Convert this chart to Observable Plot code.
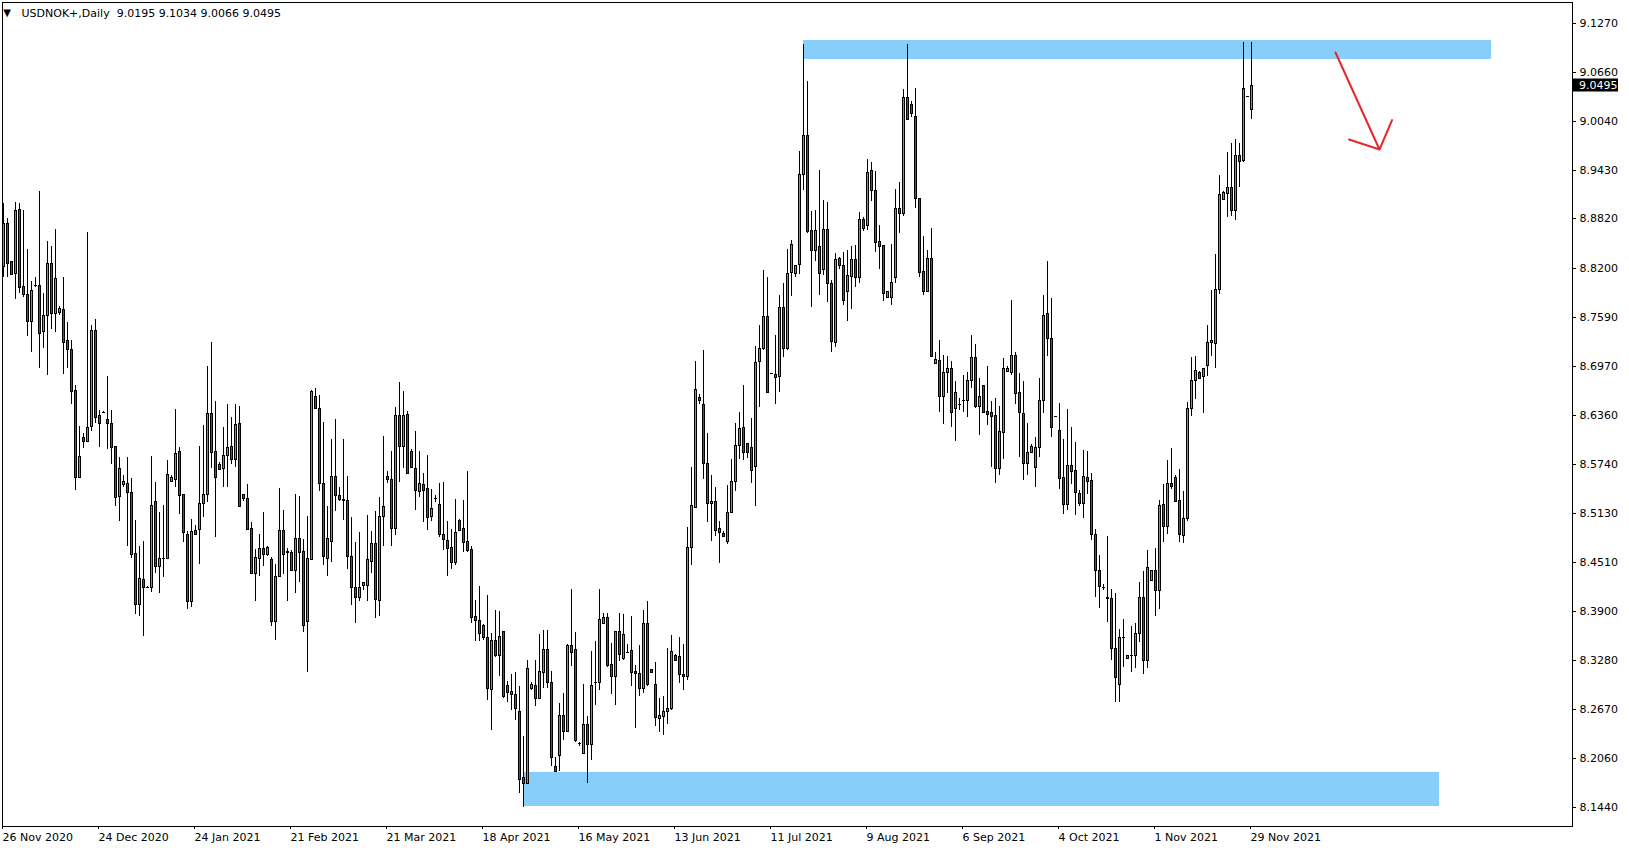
<!DOCTYPE html>
<html><head><meta charset="utf-8">
<script src="https://cdn.jsdelivr.net/npm/d3@7"></script>
<script src="https://cdn.jsdelivr.net/npm/@observablehq/plot@0.6"></script>
<style>html,body{margin:0;padding:0;background:#fff;overflow:hidden}svg{display:block}</style>
</head><body><div id="chart"></div>
<script>
// ---- Data (USDNOK+, Daily) ----
const symbol = "USDNOK+";
const period = "Daily";
const opens = [
8.822,8.876,8.828,8.814,8.894,8.797,8.787,8.754,8.798,8.798,
8.741,8.761,8.826,8.764,8.765,8.768,8.729,8.718,8.667,8.558,
8.608,8.603,8.622,8.742,8.636,8.640,8.631,8.625,8.597,8.534,
8.549,8.551,8.539,8.463,8.399,8.430,8.420,8.420,8.528,8.446,
8.456,8.457,8.553,8.555,8.590,8.537,8.487,8.403,8.492,8.493,
8.525,8.536,8.638,8.590,8.574,8.569,8.586,8.597,8.581,8.625,
8.536,8.531,8.494,8.438,8.457,8.469,8.462,8.455,8.378,8.434,
8.491,8.465,8.464,8.442,8.482,8.465,8.378,8.455,8.659,8.645,
8.550,8.457,8.478,8.559,8.535,8.530,8.529,8.459,8.420,8.407,
8.423,8.422,8.453,8.475,8.404,8.509,8.559,8.555,8.494,8.636,
8.597,8.637,8.590,8.569,8.541,8.549,8.544,8.509,8.532,8.524,
8.487,8.479,8.470,8.452,8.504,8.494,8.478,8.468,8.384,8.379,
8.372,8.357,8.292,8.354,8.335,8.365,8.297,8.290,8.286,8.265,
8.182,8.175,8.294,8.297,8.281,8.314,8.343,8.301,8.196,8.209,
8.260,8.239,8.347,8.342,8.224,8.212,8.249,8.223,8.301,8.301,
8.375,8.382,8.323,8.309,8.365,8.331,8.339,8.341,8.315,8.312,
8.294,8.375,8.317,8.299,8.256,8.259,8.265,8.269,8.335,8.333,
8.311,8.309,8.470,8.520,8.658,8.649,8.575,8.525,8.528,8.494,
8.488,8.478,8.514,8.553,8.598,8.621,8.600,8.595,8.572,8.703,
8.719,8.760,8.688,8.687,8.684,8.771,8.720,8.815,8.814,8.825,
8.938,8.986,8.867,8.842,8.847,8.818,8.869,8.801,8.727,8.832,
8.824,8.791,8.810,8.831,8.808,8.881,8.874,8.943,8.918,8.854,
8.849,8.784,8.784,8.808,8.895,8.889,9.034,9.025,9.010,8.908,
8.816,8.791,8.833,8.701,8.704,8.659,8.689,8.695,8.645,8.649,
8.655,8.654,8.680,8.708,8.647,8.673,8.641,8.639,8.636,8.569,
8.614,8.691,8.689,8.711,8.664,8.638,8.575,8.589,8.571,8.596,
8.655,8.763,8.732,8.634,8.617,8.558,8.524,8.573,8.567,8.538,
8.525,8.558,8.554,8.486,8.442,8.420,8.408,8.406,8.344,8.298,
8.357,8.331,8.335,8.335,8.363,8.407,8.328,8.429,8.441,8.416,
8.524,8.497,8.550,8.558,8.529,8.485,8.506,8.645,8.680,8.689,
8.684,8.698,8.727,8.726,8.794,8.906,8.914,8.921,8.892,8.962,
8.955,9.035,9.0195];
const highs = [
8.901,8.882,8.829,8.902,8.901,8.893,8.844,8.804,8.809,8.916,
8.788,8.854,8.847,8.869,8.772,8.809,8.752,8.730,8.673,8.622,
8.613,8.865,8.748,8.756,8.642,8.641,8.684,8.642,8.597,8.583,
8.560,8.583,8.557,8.504,8.471,8.478,8.421,8.584,8.552,8.514,
8.523,8.579,8.560,8.643,8.596,8.537,8.490,8.505,8.498,8.597,
8.623,8.697,8.727,8.653,8.577,8.620,8.650,8.633,8.650,8.647,
8.536,8.549,8.501,8.468,8.487,8.514,8.472,8.458,8.449,8.544,
8.517,8.469,8.467,8.537,8.534,8.480,8.509,8.667,8.670,8.661,
8.627,8.522,8.606,8.630,8.546,8.606,8.559,8.508,8.477,8.489,
8.426,8.510,8.490,8.515,8.533,8.609,8.566,8.590,8.646,8.677,
8.666,8.641,8.593,8.616,8.590,8.563,8.586,8.543,8.535,8.551,
8.552,8.503,8.493,8.530,8.505,8.529,8.565,8.471,8.404,8.421,
8.374,8.410,8.363,8.391,8.390,8.365,8.302,8.311,8.313,8.296,
8.233,8.329,8.301,8.329,8.361,8.366,8.366,8.315,8.207,8.275,
8.287,8.349,8.418,8.364,8.226,8.298,8.259,8.340,8.352,8.418,
8.387,8.388,8.350,8.365,8.388,8.386,8.349,8.384,8.322,8.347,
8.391,8.403,8.317,8.326,8.281,8.284,8.344,8.360,8.336,8.357,
8.349,8.495,8.570,8.703,8.662,8.717,8.613,8.560,8.545,8.503,
8.490,8.548,8.580,8.625,8.639,8.673,8.600,8.632,8.722,8.748,
8.817,8.808,8.688,8.736,8.786,8.801,8.844,8.855,8.824,8.966,
9.101,9.054,8.891,8.893,8.943,8.905,8.903,8.805,8.839,8.834,
8.840,8.843,8.847,8.849,8.890,8.884,8.957,8.953,8.941,8.874,
8.849,8.791,8.850,8.919,8.927,9.044,9.101,9.029,9.046,8.908,
8.860,8.842,8.870,8.715,8.730,8.711,8.710,8.703,8.678,8.657,
8.686,8.689,8.736,8.724,8.682,8.673,8.697,8.653,8.657,8.647,
8.707,8.697,8.780,8.715,8.688,8.678,8.626,8.599,8.608,8.682,
8.786,8.829,8.782,8.634,8.651,8.605,8.643,8.621,8.602,8.542,
8.592,8.591,8.563,8.493,8.460,8.424,8.484,8.418,8.413,8.367,
8.380,8.335,8.371,8.375,8.426,8.440,8.467,8.442,8.469,8.529,
8.549,8.579,8.594,8.560,8.568,8.540,8.652,8.708,8.710,8.691,
8.695,8.749,8.792,8.837,8.937,8.916,8.965,8.976,8.982,8.976,
9.103,9.035,9.1034];
const lows = [
8.808,8.809,8.811,8.781,8.789,8.783,8.735,8.714,8.796,8.694,
8.719,8.686,8.744,8.740,8.761,8.687,8.695,8.649,8.542,8.558,
8.594,8.602,8.615,8.626,8.596,8.639,8.593,8.574,8.521,8.503,
8.546,8.471,8.456,8.386,8.384,8.359,8.419,8.414,8.437,8.412,
8.432,8.457,8.552,8.546,8.512,8.476,8.393,8.395,8.487,8.449,
8.508,8.526,8.569,8.483,8.567,8.546,8.546,8.574,8.571,8.521,
8.528,8.491,8.437,8.403,8.434,8.446,8.459,8.371,8.354,8.434,
8.436,8.402,8.442,8.413,8.426,8.364,8.313,8.454,8.645,8.541,
8.448,8.434,8.452,8.515,8.528,8.504,8.443,8.397,8.375,8.402,
8.416,8.402,8.437,8.381,8.384,8.472,8.550,8.471,8.485,8.552,
8.569,8.562,8.570,8.517,8.533,8.501,8.492,8.503,8.526,8.483,
8.467,8.434,8.443,8.448,8.492,8.464,8.464,8.375,8.352,8.352,
8.354,8.278,8.241,8.332,8.309,8.281,8.276,8.266,8.253,8.162,
8.145,8.174,8.291,8.271,8.281,8.294,8.294,8.196,8.190,8.189,
8.228,8.239,8.321,8.226,8.221,8.211,8.174,8.203,8.272,8.291,
8.375,8.320,8.286,8.272,8.327,8.328,8.338,8.296,8.244,8.283,
8.287,8.296,8.313,8.246,8.238,8.234,8.248,8.266,8.328,8.300,
8.291,8.304,8.448,8.520,8.650,8.556,8.501,8.478,8.484,8.450,
8.484,8.474,8.513,8.541,8.580,8.579,8.582,8.550,8.522,8.646,
8.717,8.663,8.688,8.649,8.665,8.708,8.717,8.785,8.809,8.812,
8.918,8.864,8.771,8.828,8.786,8.811,8.777,8.714,8.721,8.819,
8.773,8.753,8.768,8.796,8.801,8.866,8.867,8.904,8.840,8.819,
8.779,8.784,8.773,8.801,8.864,8.885,9.006,9.009,8.895,8.808,
8.786,8.791,8.709,8.701,8.640,8.624,8.663,8.621,8.603,8.642,
8.640,8.633,8.670,8.645,8.610,8.638,8.623,8.570,8.551,8.560,
8.581,8.690,8.686,8.650,8.583,8.554,8.561,8.588,8.546,8.583,
8.638,8.710,8.608,8.634,8.543,8.512,8.516,8.549,8.510,8.521,
8.506,8.537,8.479,8.408,8.394,8.416,8.376,8.328,8.276,8.276,
8.320,8.331,8.314,8.318,8.351,8.311,8.319,8.428,8.384,8.392,
8.476,8.486,8.543,8.526,8.476,8.475,8.503,8.634,8.656,8.682,
8.638,8.684,8.709,8.695,8.787,8.906,8.884,8.885,8.880,8.921,
8.953,9.035,9.0066];
const closes = [
8.876,8.826,8.812,8.892,8.796,8.787,8.754,8.792,8.798,8.739,
8.761,8.826,8.763,8.807,8.770,8.727,8.718,8.666,8.558,8.584,
8.603,8.620,8.742,8.633,8.625,8.640,8.625,8.596,8.533,8.569,
8.553,8.539,8.462,8.399,8.431,8.420,8.420,8.523,8.446,8.456,
8.456,8.562,8.558,8.588,8.535,8.489,8.403,8.490,8.487,8.525,
8.536,8.638,8.589,8.558,8.568,8.586,8.595,8.581,8.624,8.522,
8.531,8.493,8.438,8.458,8.469,8.461,8.470,8.378,8.434,8.491,
8.461,8.464,8.442,8.482,8.464,8.373,8.456,8.666,8.645,8.551,
8.459,8.482,8.559,8.535,8.530,8.529,8.459,8.420,8.407,8.420,
8.426,8.455,8.475,8.405,8.509,8.522,8.555,8.494,8.636,8.597,
8.636,8.563,8.570,8.542,8.550,8.542,8.508,8.519,8.532,8.487,
8.480,8.469,8.451,8.489,8.492,8.477,8.467,8.383,8.379,8.363,
8.357,8.293,8.354,8.335,8.359,8.284,8.289,8.286,8.268,8.180,
8.174,8.318,8.298,8.281,8.315,8.343,8.301,8.207,8.190,8.260,
8.239,8.347,8.338,8.228,8.224,8.249,8.223,8.297,8.301,8.380,
8.383,8.322,8.309,8.365,8.336,8.361,8.339,8.314,8.312,8.294,
8.375,8.299,8.313,8.257,8.260,8.265,8.269,8.340,8.329,8.311,
8.308,8.470,8.523,8.668,8.654,8.575,8.525,8.528,8.491,8.489,
8.484,8.514,8.553,8.598,8.619,8.589,8.589,8.567,8.702,8.719,
8.760,8.664,8.688,8.683,8.771,8.720,8.814,8.850,8.824,8.938,
8.987,8.866,8.842,8.867,8.814,8.869,8.801,8.728,8.831,8.824,
8.780,8.811,8.831,8.808,8.881,8.870,8.940,8.918,8.853,8.848,
8.789,8.791,8.802,8.895,8.889,9.034,9.006,9.014,8.908,8.815,
8.791,8.833,8.709,8.706,8.660,8.689,8.695,8.640,8.664,8.649,
8.655,8.680,8.708,8.647,8.659,8.640,8.637,8.634,8.569,8.616,
8.695,8.694,8.711,8.663,8.639,8.576,8.589,8.597,8.596,8.655,
8.761,8.732,8.620,8.634,8.557,8.524,8.573,8.566,8.539,8.525,
8.559,8.553,8.486,8.442,8.421,8.420,8.406,8.344,8.307,8.357,
8.357,8.335,8.335,8.363,8.407,8.328,8.445,8.441,8.416,8.523,
8.497,8.550,8.547,8.528,8.486,8.507,8.645,8.680,8.692,8.682,
8.695,8.727,8.729,8.794,8.912,8.915,8.921,8.892,8.962,8.954,
9.046,9.035,9.0495];

// date labels shown every 24 bars
const dateLabels = ["26 Nov 2020","24 Dec 2020","24 Jan 2021","21 Feb 2021","21 Mar 2021","18 Apr 2021","16 May 2021","13 Jun 2021","11 Jul 2021","9 Aug 2021","6 Sep 2021","4 Oct 2021","1 Nov 2021","29 Nov 2021"];
const dateLabelBars = [0,24,48,72,96,120,144,168,192,216,240,264,288,312];
const priceTicks = [9.1270,9.0660,9.0040,8.9430,8.8820,8.8200,8.7590,8.6970,8.6360,8.5740,8.5130,8.4510,8.3900,8.3280,8.2670,8.2060,8.1440];

// supply / demand zones (bar index from, to; price top, bottom)
const zoneFrom = [200, 130];
const zoneTo = [372, 359];
const zoneTop = [9.1055, 8.1883];
const zoneBottom = [9.0817, 8.1455];

// hand-drawn red arrow (bar index, price)
const arrowBars = [333, 344];
const arrowPrices = [9.0905, 8.9695];

// ---- Build ----
const candles = opens.map((o, i) => ({i, open: o, high: highs[i], low: lows[i], close: closes[i]}));
const bulls = candles.filter(d => d.close > d.open);
const bears = candles.filter(d => d.close < d.open);
const dojis = candles.filter(d => Math.abs(d.close - d.open) < 0.0008);
const zones = zoneFrom.map((f, k) => ({from: f, to: zoneTo[k], top: zoneTop[k], bottom: zoneBottom[k]}));
const arrows = [{x1: arrowBars[0], y1: arrowPrices[0], x2: arrowBars[1], y2: arrowPrices[1]}];
const last = candles[candles.length - 1];
const header = `${symbol},${period}\u00a0\u00a0${last.open.toFixed(4)} ${last.high.toFixed(4)} ${last.low.toFixed(4)} ${last.close.toFixed(4)}`;

const W = 1629, H = 850, MR = 57, MB = 24, ML = 2, MT = 2;
const GREEN = "#26d026", RED = "#dc1a1a", ZONE = "#87cefa";

const chart = Plot.plot({
  width: W, height: H,
  marginLeft: ML, marginRight: MR, marginTop: MT, marginBottom: MB,
  style: {fontFamily: "'DejaVu Sans', sans-serif", fontSize: "11px", background: "white", color: "black"},
  x: {type: "linear", domain: [0, 312], range: [3, 3 + 4 * 312]},
  y: {type: "linear", domain: [8.144, 9.127], range: [807.3, 22.9], round: true},
  marks: [
    Plot.rect(zones, {x1: "from", x2: "to", y1: "bottom", y2: "top", fill: ZONE}),
    Plot.ruleX(candles, {x: "i", y1: "low", y2: "high", stroke: "black", strokeWidth: 1}),
    Plot.rect(bulls, {x1: d => d.i - 0.25, x2: d => d.i + 0.25, y1: "open", y2: "close", fill: GREEN, stroke: "black", strokeWidth: 1, dx: 0.5, dy: 0.5}),
    Plot.rect(bears, {x1: d => d.i - 0.25, x2: d => d.i + 0.25, y1: "open", y2: "close", fill: RED, stroke: "black", strokeWidth: 1, dx: 0.5, dy: 0.5}),
    Plot.ruleY(dojis, {y: "close", x1: d => d.i - 0.375, x2: d => d.i + 0.375, stroke: "black", strokeWidth: 1, dx: 0.5}),
    Plot.arrow(arrows, {x1: "x1", y1: "y1", x2: "x2", y2: "y2", stroke: "#e8262b", strokeWidth: 2, headLength: 24, headAngle: 95}),
    Plot.frame({stroke: "black"}),
    Plot.axisY({anchor: "right", ticks: priceTicks, tickFormat: d => d.toFixed(4), tickSize: 3, tickPadding: 4, label: null, fontSize: 11}),
    Plot.axisX({anchor: "bottom", ticks: dateLabelBars, tickFormat: d => dateLabels[dateLabelBars.indexOf(d)], tickSize: 3, tickPadding: 4, textAnchor: "start", dx: -1, label: null, fontSize: 11}),
    Plot.text([header], {text: d => d, frameAnchor: "top-left", dx: 19, dy: 10.5, textAnchor: "start", lineAnchor: "middle", fontSize: 11, fill: "black"}),
    Plot.text(["\u25BC"], {text: d => d, frameAnchor: "top-left", dx: 4.5, dy: 10, textAnchor: "middle", lineAnchor: "middle", fontSize: 10, fill: "black"})
  ]
});

// current price label on the price axis
const yLast = chart.scale("y").apply(last.close);
const g = d3.select(chart).append("g");
g.append("rect").attr("x", W - MR + 1).attr("y", yLast - 6.5).attr("width", 45).attr("height", 13).attr("fill", "black");
g.append("text").attr("x", W - MR + 7).attr("y", yLast).attr("dy", "0.36em").attr("fill", "white")
  .attr("text-anchor", "start")
  .style("font-family", "'DejaVu Sans', sans-serif").style("font-size", "11px").text(last.close.toFixed(4));

document.getElementById("chart").appendChild(chart);
</script></body></html>
